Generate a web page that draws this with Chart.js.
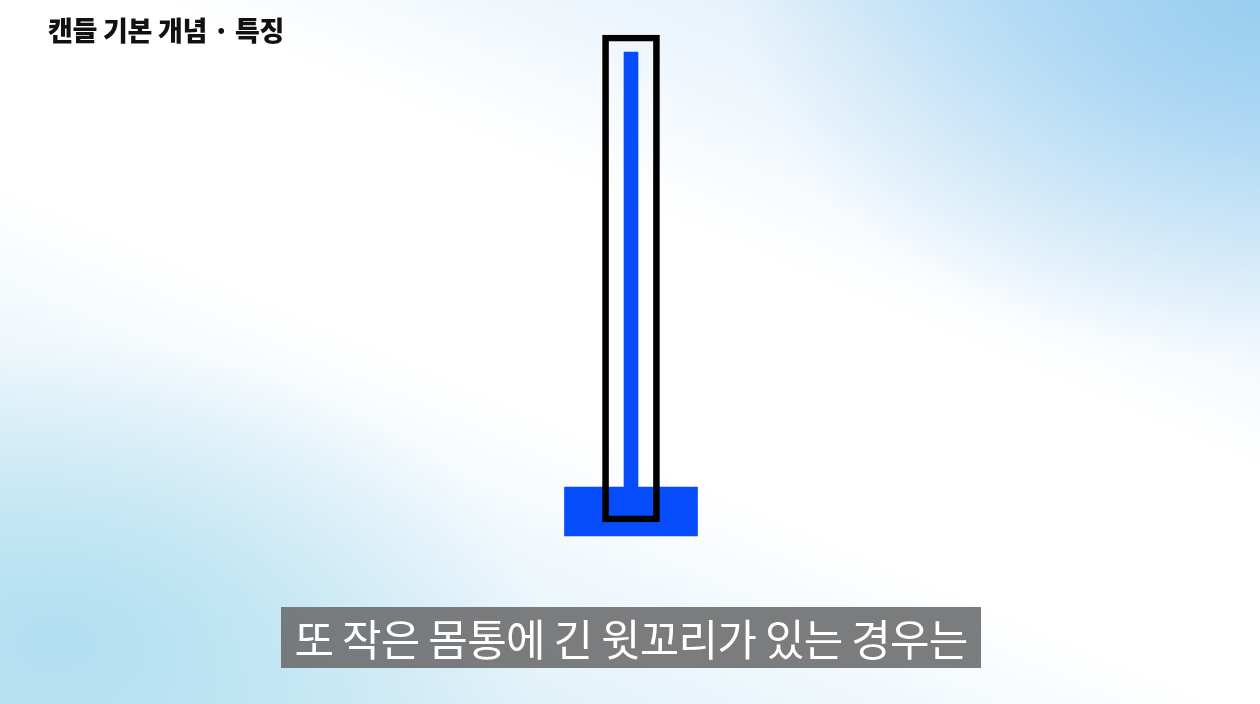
<!DOCTYPE html>
<html>
<head>
<meta charset="utf-8">
<script src="https://cdn.jsdelivr.net/npm/chart.js@4.4.1/dist/chart.umd.min.js"></script>
<style>
    html, body { margin: 0; padding: 0; }
    body {
        width: 1260px; height: 704px; overflow: hidden; position: relative;
        background:
            radial-gradient(ellipse 520px 360px at 1260px 0px, rgba(150,205,240,0.95), rgba(150,205,240,0) 100%),
            radial-gradient(ellipse 480px 300px at 60px 640px, rgba(175,222,240,0.95), rgba(175,222,240,0) 100%),
            linear-gradient(203deg, #bfe0f5 0%, #e6f2fb 18%, #ffffff 38%, #ffffff 58%, #eaf5fb 75%, #c9e8f4 100%);
        font-family: "Noto Sans CJK KR", "Noto Sans", sans-serif;
    }
    #wrap { position: absolute; left: 0; top: 0; width: 1260px; height: 704px; }
    #title {
        position: absolute; left: 48px; top: 10px;
        font-size: 27px; font-weight: 900; color: #111; letter-spacing: -0.3px;
    }
    #caption {
        position: absolute; left: 281px; top: 607px; width: 700px; height: 61px;
        background: rgba(112,113,114,0.92); color: #fff;
        font-size: 43px; font-weight: 400; line-height: 60px; text-align: center;
        letter-spacing: -0.8px; white-space: nowrap;
    }
</style>
</head>
<body>
<div id="wrap"><canvas id="chart"></canvas></div>
<div id="title">캔들 기본 개념 · 특징</div>
<div id="caption">또 작은 몸통에 긴 윗꼬리가 있는 경우는</div>
<script>
// 캔들 하나: 작은 몸통 + 긴 윗꼬리 (세로 단위는 화면 기준 임의 값)
const labels = ['candle'];
const bodyRange = [[168, 217]];   // 시가/종가 (몸통)
const wickRange = [[217, 652]];   // 윗꼬리 (고가까지)
const focusRange = [[182, 669]];  // 윗꼬리를 강조하는 테두리 상자

const BLUE = '#064cfb';

new Chart(document.getElementById('chart'), {
    type: 'bar',
    data: {
        labels: labels,
        datasets: [
            {
                // 첫 번째 dataset이 맨 위에 그려짐
                label: 'focus',
                data: focusRange,
                backgroundColor: 'rgba(0,0,0,0)',
                borderColor: '#000',
                borderWidth: 6,
                borderSkipped: false,
                barThickness: 57,
                grouped: false
            },
            {
                label: 'wick',
                data: wickRange,
                backgroundColor: BLUE,
                borderWidth: 0,
                barThickness: 14,
                grouped: false
            },
            {
                label: 'body',
                data: bodyRange,
                backgroundColor: BLUE,
                borderWidth: 0,
                barThickness: 133,
                grouped: false
            }
        ]
    },
    options: {
        responsive: true,
        maintainAspectRatio: false,
        animation: false,
        layout: { padding: { left: 2, right: 0, top: 0, bottom: 0 } },
        scales: {
            x: { display: false },
            y: { display: false, min: 0, max: 704 }
        },
        plugins: {
            legend: { display: false },
            tooltip: { enabled: false }
        }
    }
});
</script>
</body>
</html>
